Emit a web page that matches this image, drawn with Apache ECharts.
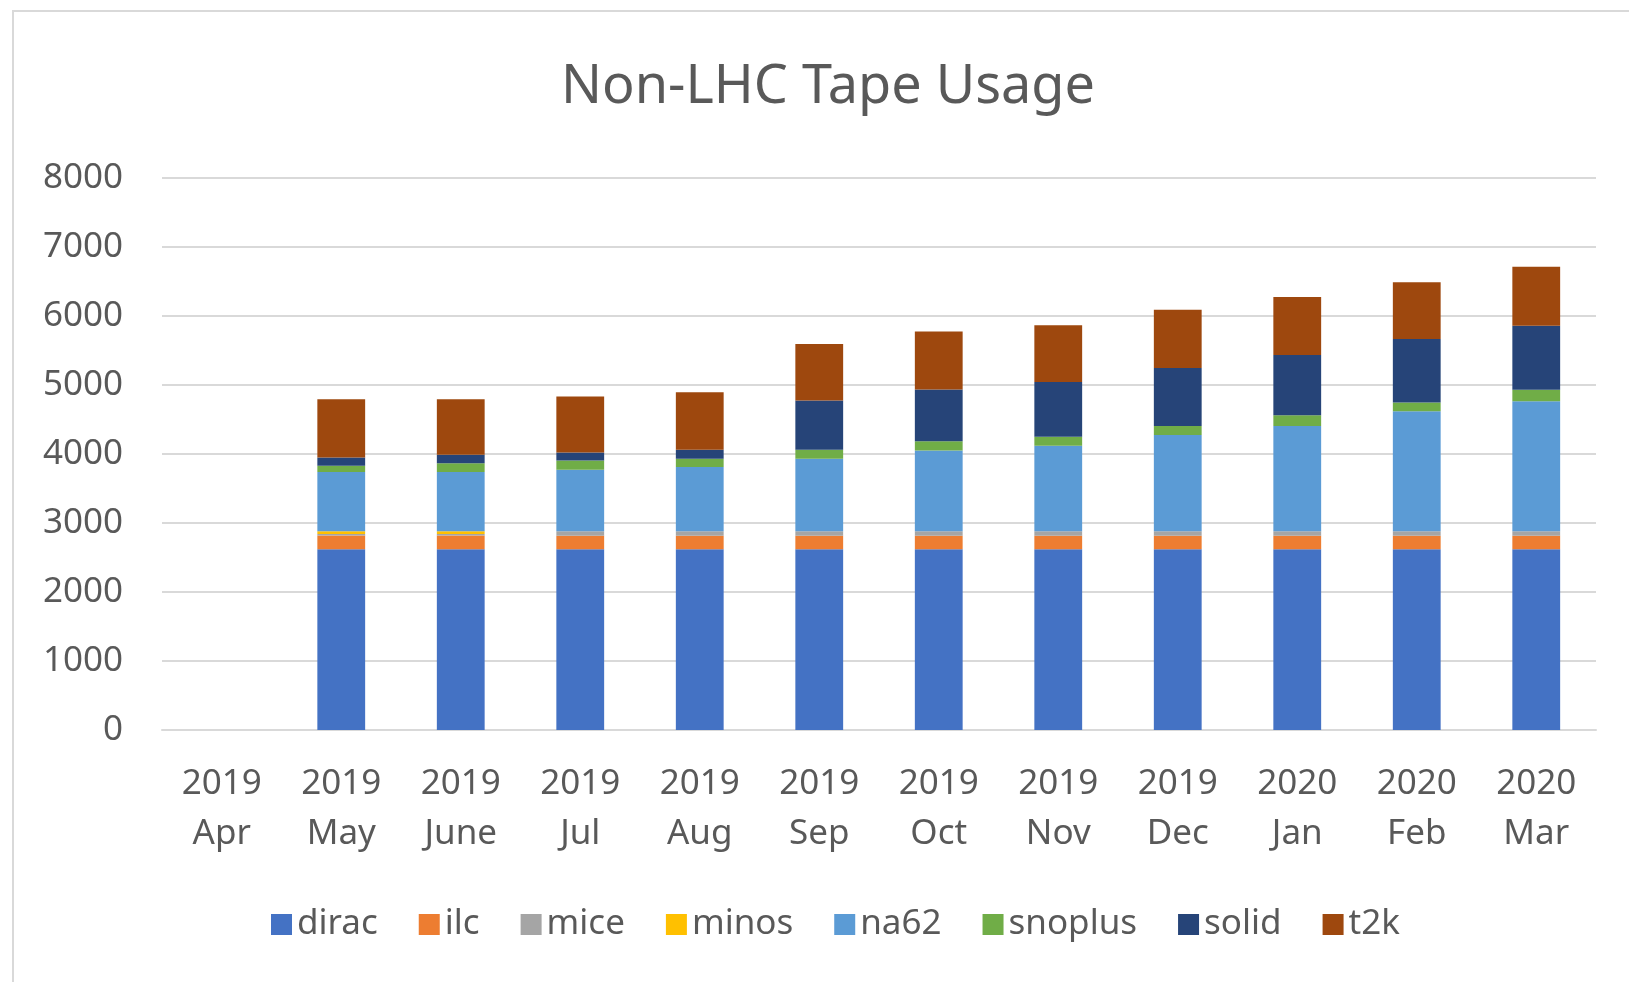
<!DOCTYPE html>
<html>
<head>
<meta charset="utf-8">
<script src="https://cdn.jsdelivr.net/npm/echarts@6/dist/echarts.min.js"></script>
<style>
html,body{margin:0;padding:0;background:#fff;}
#chart{width:1629px;height:982px;}
</style>
</head>
<body>
<div id="chart"></div>
<script>
// months on the x axis (two line labels)
var months = ['2019\nApr', '2019\nMay', '2019\nJune', '2019\nJul', '2019\nAug', '2019\nSep',
    '2019\nOct', '2019\nNov', '2019\nDec', '2020\nJan', '2020\nFeb', '2020\nMar'];

// stacked values
var dirac   = [0, 2620, 2620, 2620, 2620, 2620, 2620, 2620, 2620, 2620, 2620, 2620];
var ilc     = [0, 200, 200, 195, 195, 195, 195, 195, 195, 195, 195, 195];
var mice    = [0, 20, 20, 65, 65, 65, 65, 65, 65, 65, 65, 65];
var minos   = [0, 40, 40, 0, 0, 0, 0, 0, 0, 0, 0, 0];
var na62    = [0, 860, 860, 890, 930, 1050, 1170, 1240, 1395, 1525, 1740, 1885];
var snoplus = [0, 90, 125, 135, 120, 130, 135, 130, 130, 155, 125, 165];
var solid   = [0, 120, 125, 115, 130, 715, 750, 795, 840, 875, 920, 930];
var t2k     = [0, 845, 805, 815, 835, 820, 840, 820, 845, 840, 825, 855];

var yTicks = [0, 1000, 2000, 3000, 4000, 5000, 6000, 7000, 8000];

var names  = ['dirac', 'ilc', 'mice', 'minos', 'na62', 'snoplus', 'solid', 't2k'];
var values = [dirac, ilc, mice, minos, na62, snoplus, solid, t2k];
var colors = ['#4472C4', '#ED7D31', '#A5A5A5', '#FFC000', '#5B9BD5', '#70AD47', '#264478', '#9E480E'];

var txt = '#595959';
var font = 'Noto Sans';

var chart = echarts.init(document.getElementById('chart'));

var series = names.map(function (n, i) {
    return {
        name: n,
        type: 'bar',
        stack: 'total',
        data: values[i],
        barWidth: '40%',
        itemStyle: { color: colors[i] }
    };
});

var option = {
    animation: false,
    backgroundColor: '#fff',
    color: colors,
    title: {
        text: 'Non-LHC Tape Usage',
        left: 556,
        top: 56,
        textStyle: { fontFamily: font, fontSize: 54, fontWeight: 'normal', color: txt }
    },
    graphic: [{
        type: 'rect',
        shape: { x: 13, y: 11, width: 1700, height: 1100 },
        style: { fill: 'none', stroke: '#d9d9d9', lineWidth: 2 },
        silent: true
    }],
    legend: {
        data: names,
        left: 266,
        top: 902,
        icon: 'rect',
        itemWidth: 21,
        itemHeight: 21,
        itemGap: 41,
        textStyle: { fontFamily: font, fontSize: 35, color: txt }
    },
    grid: { left: 162, right: 33, top: 178, bottom: 252 },
    xAxis: {
        type: 'category',
        data: months,
        axisLine: { lineStyle: { color: '#d9d9d9', width: 2 } },
        axisTick: { show: false },
        axisLabel: {
            fontFamily: font, fontSize: 35, color: txt,
            lineHeight: 50, margin: 29, interval: 0
        }
    },
    yAxis: {
        type: 'value',
        min: yTicks[0],
        max: yTicks[yTicks.length - 1],
        interval: 1000,
        axisLine: { show: false },
        axisTick: { show: false },
        splitLine: { lineStyle: { color: '#d9d9d9', width: 2 } },
        axisLabel: {
            fontFamily: font, fontSize: 35, color: txt, margin: 39,
            formatter: function (v) { return String(v); }
        }
    },
    series: series
};

chart.setOption(option);
</script>
</body>
</html>
